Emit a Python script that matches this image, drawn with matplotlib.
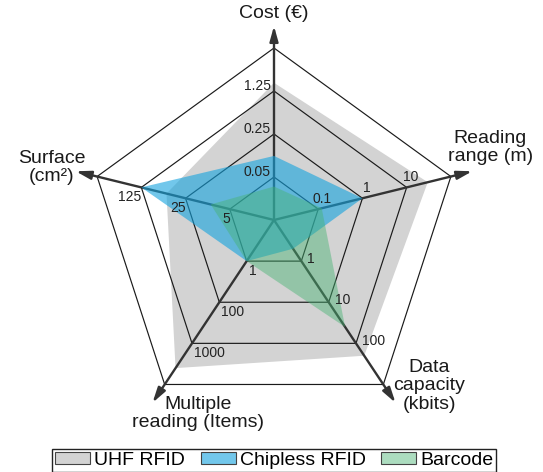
import matplotlib.pyplot as plt
from matplotlib.patches import Patch, Polygon
import numpy as np

plt.rcParams['font.family'] = ['Liberation Sans', 'DejaVu Sans']

# axis names, clockwise from the top
axis_names = ['Cost (€)', 'Reading\nrange (m)', 'Data\ncapacity\n(kbits)',
              'Multiple\nreading (Items)', 'Surface\n(cm²)']

# value at each ring: hub, three labelled rings, outer ring (log scales)
cost_scale = [0.01, 0.05, 0.25, 1.25, 6.25]
range_scale = [0.01, 0.1, 1, 10, 100]
capacity_scale = [0.1, 1, 10, 100, 1000]
multi_scale = [0.1, 1, 100, 1000, 10000]
surface_scale = [1, 5, 25, 125, 625]
scales = [cost_scale, range_scale, capacity_scale, multi_scale, surface_scale]

series_names = ['UHF RFID', 'Chipless RFID', 'Barcode']
uhf = [1.7, 30, 200, 4000, 50]
chipless = [0.11, 1, 0.5, 1, 125]
barcode = [0.035, 0.12, 40, 1, 10]

# geometry (pixels, y up)
fig = plt.figure(figsize=(5.43, 4.72), dpi=100)
ax = fig.add_axes([0, 0, 1, 1])
ax.set_xlim(0, 543)
ax.set_ylim(0, 472)
ax.axis('off')

center = np.array([274.0, 238.0])
R = 186.0
hub = np.array([274.0, 252.0])
angles = np.deg2rad([90, 18, -54, -126, 162])
outer = np.column_stack([center[0] + R * np.cos(angles),
                         center[1] + R * np.sin(angles)])


def frac(v, scale):
    return np.interp(np.log10(v), np.log10(scale), np.linspace(0, 1, 5))


def point(i, f):
    return hub + f * (outer[i] - hub)


# rings
for k in range(1, 5):
    pts = np.array([point(i, k / 4) for i in range(5)])
    ax.add_patch(Polygon(pts, closed=True, fill=False, ec='#1a1a1a', lw=0.85, zorder=2))

# axes with arrows
for i in range(5):
    d = outer[i] - hub
    tip = outer[i] + d / np.linalg.norm(d) * 22
    ax.annotate('', xy=tip, xytext=hub,
                arrowprops=dict(arrowstyle='-|>,head_length=0.5,head_width=0.14',
                                lw=1.7, color='#333333', shrinkA=0, shrinkB=0,
                                mutation_scale=18), zorder=2.5)

# data polygons
colors = ['#d3d3d3', (0.08, 0.64, 0.87), (0.28, 0.70, 0.45)]
alphas = [1.0, 0.6, 0.45]
zs = [1, 3, 4]
for vals, c, a, z in zip([uhf, chipless, barcode], colors, alphas, zs):
    pts = np.array([point(i, frac(v, scales[i])) for i, v in enumerate(vals)])
    ax.add_patch(Polygon(pts, closed=True, fc=c, alpha=a, ec='none', zorder=z))

# tick labels
tick_style = [('right', 'center', (-3, 5)), ('center', 'bottom', (4, 3)),
              ('left', 'center', (6, 2)), ('left', 'top', (2, -3)),
              ('right', 'top', (0, -3))]
for i in range(5):
    ha, va, off = tick_style[i]
    for k in range(1, 4):
        ax.annotate('{:g}'.format(scales[i][k]), xy=point(i, k / 4), xytext=off,
                    textcoords='offset pixels', ha=ha, va=va, fontsize=10,
                    color='#222222', zorder=5)

# axis titles
title_off = [(0, 12), (18, 24), (34, 17), (46, -11), (-24, 4)]
for i in range(5):
    d = outer[i] - hub
    tip = outer[i] + d / np.linalg.norm(d) * 22
    ax.annotate(axis_names[i], xy=tip, xytext=title_off[i], textcoords='offset pixels',
                ha='center', va='center', fontsize=14, color='#1a1a1a',
                multialignment='center', linespacing=1.1)

handles = [Patch(fc=(0.827, 0.827, 0.827), ec='#444444', lw=0.8),
           Patch(fc=(0.08, 0.64, 0.87, 0.6), ec='#444444', lw=0.8),
           Patch(fc=(0.28, 0.70, 0.45, 0.45), ec='#444444', lw=0.8)]
leg = fig.legend(handles, series_names, loc='center', bbox_to_anchor=(0.505, 0.025),
                 ncol=3, fontsize=14, frameon=True, fancybox=False, edgecolor='#222222',
                 framealpha=1, borderpad=0.15, handlelength=1.8, handleheight=0.6,
                 handletextpad=0.2, columnspacing=0.8, borderaxespad=0)
leg.get_frame().set_linewidth(1.0)

fig.savefig('out.png', dpi=100)
